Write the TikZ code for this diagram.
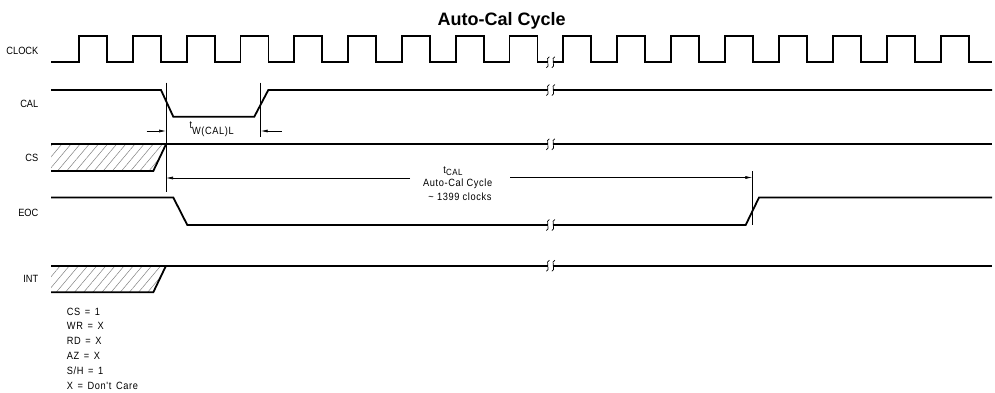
\documentclass[tikz,border=0pt]{standalone}
\usepackage{fontspec}
\setmainfont{Liberation Sans}
\newfontfamily\lblfont[FakeStretch=0.88]{Liberation Sans}
\newfontfamily\txtfont[FakeStretch=0.88,LetterSpace=6]{Liberation Sans}
\usetikzlibrary{arrows.meta,patterns.meta}

\begin{document}
\begin{tikzpicture}[x=1pt,y=-1pt,
  sig/.style={line width=1.8pt},
  fine/.style={line width=0.6pt},
  dim/.style={line width=0.6pt,-{Latex[length=7pt,width=3pt]}},
  hatch/.style={pattern={Lines[angle=50,distance=7pt,line width=0.5pt]},pattern color=gray},
  lbl/.style={font=\lblfont\fontsize{10.5}{11}\selectfont,anchor=base east,inner sep=0pt},
  txt/.style={font=\txtfont\fontsize{10.5}{11}\selectfont,inner sep=0pt}]
\useasboundingbox (0,0) rectangle (995,392);

\node[font=\bfseries\fontsize{18}{19}\selectfont,anchor=base] (ttl) at (501.7,25) {Auto-Cal Cycle};

\node[lbl] (clk) at (38.5,54.3) {CLOCK};
\node[lbl] (cal) at (38.5,107.7) {CAL};
\node[lbl] (cs) at (38.5,161.7) {CS};
\node[lbl] (eoc) at (38.5,216) {EOC};
\node[lbl] (int) at (38.5,282.7) {INT};

\fill[hatch] (51,144.3) -- (166,144.3) -- (153.3,171) -- (51,171) -- cycle;
\fill[hatch] (51,265.7) -- (166,265.7) -- (153.3,292.3) -- (51,292.3) -- cycle;

\draw[sig] (51,62.3)
  \foreach \i in {0,...,8} { -- ({79+53.8*\i},62.3) -- ++(0,-26.6) -- ++(28,0) -- ++(0,26.6) }
  \foreach \i in {0,...,7} { -- ({563+54*\i},62.3) -- ++(0,-26.6) -- ++(28,0) -- ++(0,26.6) }
  -- (992,62.3);
\draw[sig] (51,90) -- (161,90) -- (173.3,116.7) -- (254.3,116.7) -- (268.3,90) -- (992,90);
\draw[sig] (51,144.3) -- (992,144.3);
\draw[sig] (51,171) -- (153.3,171) -- (166,144.3);
\draw[sig] (51,197.5) -- (173.3,197.5) -- (187.3,225) -- (745.7,225) -- (759,197.5) -- (992,197.5);
\draw[sig] (51,265.7) -- (992,265.7);
\draw[sig] (51,292.3) -- (153.3,292.3) -- (166,265.7);

\foreach \y in {62.3,90,144.3,225,265.7} {
  \fill[white] (548.3,\y-6) rectangle (553.3,\y+6);
  \draw[line width=0.7pt] (546.3,\y+5.5) .. controls (550.8,\y+5.5) and (544.8,\y-5.5) .. (549.3,\y-5.5);
  \draw[line width=0.7pt] (551.8,\y+5.5) .. controls (556.3,\y+5.5) and (550.3,\y-5.5) .. (554.8,\y-5.5);
}

\coordinate (a1) at (166,82.7);
\coordinate (a2) at (166,191.7);
\coordinate (b1) at (260.7,82.7);
\coordinate (b2) at (260.7,136.7);
\coordinate (c1) at (752.3,171);
\coordinate (c2) at (752.3,225);
\draw[fine] (a1) -- (a2) (b1) -- (b2) (c1) -- (c2);

\coordinate (w1) at (146.7,131);
\coordinate (w2) at (281.7,131);
\coordinate (l1) at (410,178);
\coordinate (r1) at (510,177.5);
\draw[dim] (w1) -- (w1 -| a1);
\draw[dim] (w2) -- (w2 -| b1);
\draw[dim] (l1) -- (l1 -| a1);
\draw[dim] (r1) -- (r1 -| c1);

\node[txt,anchor=base west] (twc) at (189.3,128.5) {t\raisebox{-6pt}{W(CAL)L}};
\node[txt,anchor=base] (tcal) at (453,173.3) {t\raisebox{-1.7pt}{\fontsize{9}{10}\selectfont CAL}};
\node[txt,anchor=base] (acc) at (457.7,186) {Auto-Cal Cycle};
\node[txt,anchor=base] (clks) at (460,200) {\textasciitilde{} 1399 clocks};

\foreach \t [count=\i] in {CS = 1, WR = X, RD = X, AZ = X, S/H = 1, X = Don't Care}
  \node[txt,anchor=base west] (leg\i) at (66.7,{300.2+14.85*\i}) {\spaceskip=4.6pt\t};
\end{tikzpicture}
\end{document}
